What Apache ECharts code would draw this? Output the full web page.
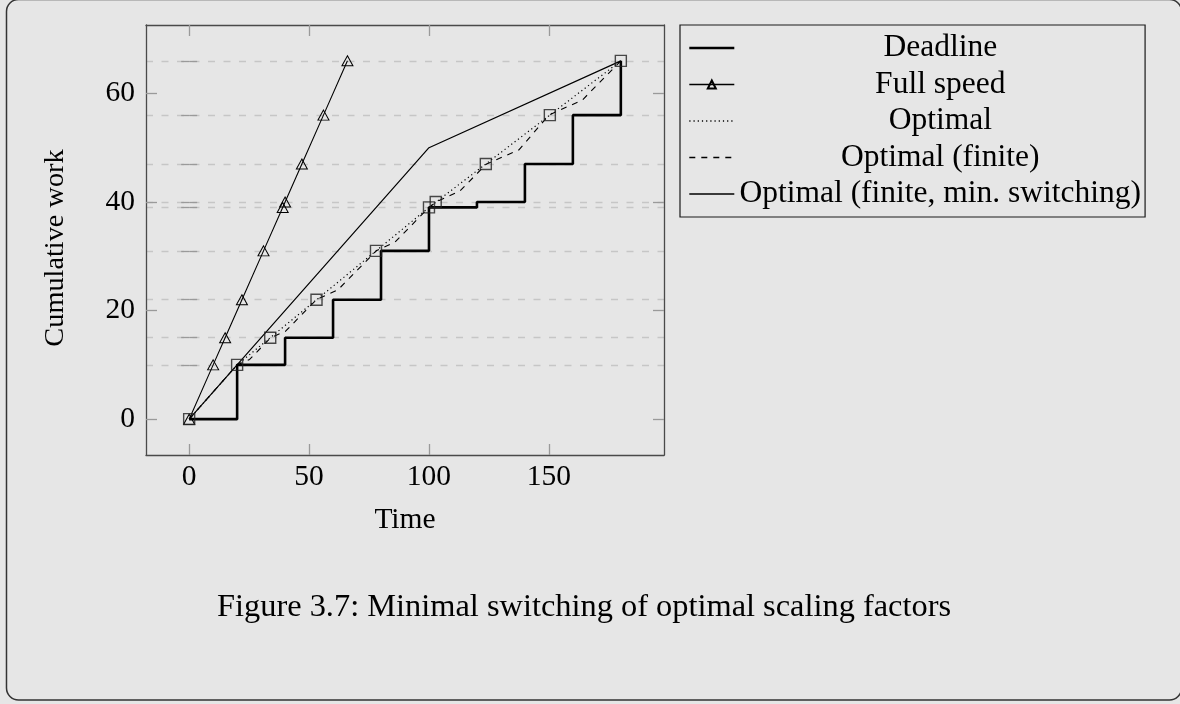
<!DOCTYPE html>
<html>
<head>
<meta charset="utf-8">
<script src="https://cdn.jsdelivr.net/npm/echarts@6/dist/echarts.min.js"></script>
<style>
  html, body { margin: 0; padding: 0; background: #e6e6e6; }
  #chart { width: 1180px; height: 704px; }
</style>
</head>
<body>
<div id="chart"></div>
<script>
// Deadlines (time) and the cumulative work that must be done by each one
const deadlineTimes = [0, 20, 40, 60, 80, 100, 120, 140, 160, 180];
const workLevels = [0, 10, 15, 22, 31, 39, 40, 47, 56, 66];

// Running at full speed: work grows one unit per unit of time
const fullSpeedTimes = [0, 10, 15, 22, 31, 39, 40, 47, 56, 66];
const fullSpeedWork = [0, 10, 15, 22, 31, 39, 40, 47, 56, 66];

// Optimal (continuous) schedule, its breakpoints
const optimalTimes = [0, 20, 100, 180];
const optimalWork = [0, 10, 39, 66];

// Times at which the optimal schedule reaches each work level
const crossingTimes = [0, 20, 33.8, 53.1, 77.9, 100, 102.8, 123.7, 150.4, 180];

// Optimal schedule restricted to a finite set of speeds
const finiteTimes = [0, 20, 25.2, 34, 40.2, 53, 62, 78, 85.8, 100, 103, 112.8, 124, 137.5, 150, 164, 180];
const finiteWork = [0, 10, 11.0, 15, 16.2, 22, 23.8, 31, 32.6, 39, 40, 42.0, 47, 49.6, 56, 58.8, 66];

// Finite speeds with the minimum number of speed switches
const minSwitchTimes = [0, 100, 180];
const minSwitchWork = [0, 50, 66];

// Axis ticks
const xTicks = [0, 50, 100, 150];
const yTicks = [0, 20, 40, 60];

const seriesNames = ['Deadline', 'Full speed', 'Optimal', 'Optimal (finite)', 'Optimal (finite, min. switching)'];
const lineWidths = [2.6, 1.1, 1.2, 1.1, 1.2];
const legendLineWidths = [2.6, 1.5, 1.5, 1.5, 1.5];

const serif = 'Liberation Serif';
const zip = (xs, ys) => xs.map((x, i) => [x, ys[i]]);
const clear = 'rgba(0,0,0,0)';

const frameLine = { show: true, onZero: false, lineStyle: { color: '#4a4a4a', width: 1.3 } };
const tickLine = { color: '#9a9a9a', width: 1.3 };
const yRange = { min: -6.6, max: 72.6 };
const xRange = { min: -18, max: 198 };

const chart = echarts.init(document.getElementById('chart'), null, { renderer: 'canvas' });

chart.setOption({
  backgroundColor: '#e6e6e6',
  animation: false,
  textStyle: { fontFamily: serif },
  grid: { left: 146, top: 25, width: 518, height: 430 },
  xAxis: [
    Object.assign({
      type: 'value', position: 'bottom',
      name: 'Time', nameLocation: 'middle', nameGap: 50,
      nameTextStyle: { fontFamily: serif, fontSize: 29.5, color: '#000' },
      axisLine: frameLine,
      axisTick: { show: true, inside: true, length: 11, customValues: xTicks, lineStyle: tickLine },
      axisLabel: { customValues: xTicks, fontFamily: serif, fontSize: 29.5, color: '#000', margin: 7 },
      splitLine: { show: false }
    }, xRange),
    Object.assign({
      type: 'value', position: 'top',
      axisLine: frameLine,
      axisTick: { show: true, inside: true, length: 11, customValues: xTicks, lineStyle: tickLine },
      axisLabel: { show: false },
      splitLine: { show: false }
    }, xRange)
  ],
  yAxis: [
    Object.assign({
      type: 'value', position: 'left',
      name: 'Cumulative work', nameLocation: 'middle', nameGap: 76,
      nameTextStyle: { fontFamily: serif, fontSize: 28.3, color: '#000', padding: [0, 16, 0, 0] },
      axisLine: frameLine,
      axisTick: { show: true, inside: true, length: 11, customValues: yTicks, lineStyle: tickLine },
      axisLabel: { customValues: yTicks, fontFamily: serif, fontSize: 29.5, color: '#000', margin: 11 },
      splitLine: { show: false }
    }, yRange),
    Object.assign({
      type: 'value', position: 'right',
      axisLine: frameLine,
      axisTick: { show: true, inside: true, length: 11, customValues: yTicks, lineStyle: tickLine },
      axisLabel: { show: false },
      splitLine: { show: false }
    }, yRange),
    // work levels: short ticks plus dashed guide lines
    Object.assign({
      type: 'value', position: 'left',
      axisLine: { show: false },
      axisTick: { show: true, inside: true, length: 8, customValues: workLevels.slice(1), lineStyle: tickLine },
      axisLabel: { show: false },
      splitLine: { show: true, lineStyle: { color: '#c6c6c6', width: 1.3, type: [7, 8.5] } }
    }, yRange),
    Object.assign({
      type: 'value', position: 'right',
      axisLine: { show: false },
      axisTick: { show: true, inside: true, length: 8, customValues: workLevels.slice(1), lineStyle: tickLine },
      axisLabel: { show: false },
      splitLine: { show: false }
    }, yRange)
  ],
  legend: {
    orient: 'vertical',
    left: 680, top: 25,
    padding: [7, 4, 7, 8],
    itemWidth: 45, itemHeight: 10, itemGap: 4.5, itemTextGap: 8,
    borderColor: '#1a1a1a', borderWidth: 1.2,
    backgroundColor: 'transparent',
    data: seriesNames.map((name, i) => ({ name, lineStyle: { color: '#000', width: legendLineWidths[i] } })),
    formatter: name => '{c|' + name + '}',
    textStyle: {
      fontFamily: serif, fontSize: 31.5, color: '#000',
      rich: { c: { fontFamily: serif, fontSize: 31.5, color: '#000', width: 402, align: 'center' } }
    }
  },
  series: [
    {
      name: seriesNames[0], type: 'line', step: 'end',
      data: zip(deadlineTimes, workLevels),
      symbol: 'none',
      lineStyle: { color: '#000', width: lineWidths[0] },
      itemStyle: { color: clear, borderWidth: 0 },
      z: 3
    },
    {
      name: seriesNames[1], type: 'line',
      data: zip(fullSpeedTimes, fullSpeedWork),
      symbol: 'triangle', symbolSize: [11, 10], showSymbol: true, showAllSymbol: true,
      lineStyle: { color: '#000', width: lineWidths[1] },
      itemStyle: { color: clear, borderColor: '#000', borderWidth: 1 },
      z: 3
    },
    {
      name: seriesNames[2], type: 'line',
      data: zip(optimalTimes, optimalWork),
      symbol: 'none',
      lineStyle: { color: '#000', width: lineWidths[2], type: [1.2, 3] },
      itemStyle: { color: clear, borderWidth: 0 },
      z: 3
    },
    {
      name: seriesNames[3], type: 'line',
      data: zip(finiteTimes, finiteWork),
      symbol: 'none',
      lineStyle: { color: '#000', width: lineWidths[3], type: [6, 6] },
      itemStyle: { color: clear, borderWidth: 0 },
      z: 3
    },
    {
      name: seriesNames[4], type: 'line',
      data: zip(minSwitchTimes, minSwitchWork),
      symbol: 'none',
      lineStyle: { color: '#000', width: lineWidths[4] },
      itemStyle: { color: clear, borderWidth: 0 },
      z: 3
    },
    {
      name: 'crossings', type: 'scatter',
      data: zip(crossingTimes, workLevels),
      symbol: 'rect', symbolSize: 11,
      itemStyle: { color: clear, borderColor: '#1f1f1f', borderWidth: 1.4 },
      z: 4
    }
  ],
  graphic: [
    {
      type: 'rect', silent: true, z: -1,
      shape: { x: 6.5, y: -0.5, width: 1175, height: 700.5, r: 12 },
      style: { fill: 'none', stroke: '#333', lineWidth: 1.5 }
    },
    {
      type: 'text', silent: true,
      left: 217, top: 591,
      style: {
        text: 'Figure 3.7: Minimal switching of optimal scaling factors',
        font: '32.4px "Liberation Serif"', fill: '#000'
      }
    }
  ]
});
</script>
</body>
</html>
